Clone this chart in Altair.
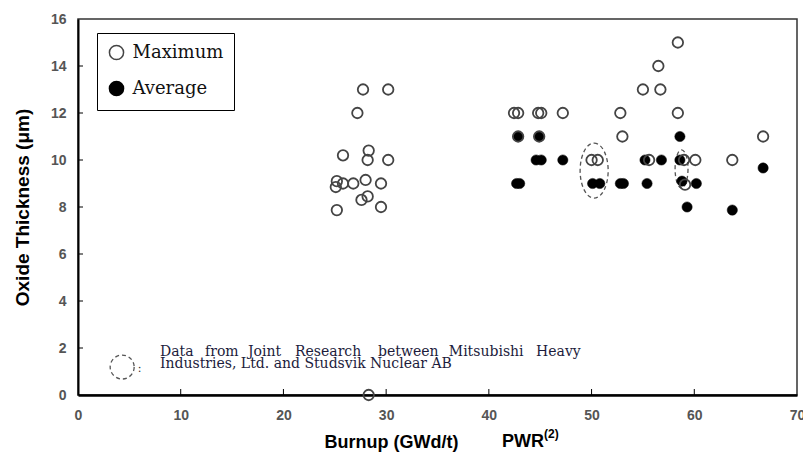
import altair as alt
import pandas as pd

# Maximum oxide thickness (open circles)
max_burnup = [25.2, 25.1, 25.8, 26.8, 28.0, 29.5, 27.6, 28.2, 25.2, 29.5,
              25.8, 28.3, 28.2, 30.2, 27.75, 30.2, 27.2, 28.3,
              42.45, 42.85, 44.8, 45.1, 47.2, 42.85, 44.9,
              52.8, 53.0, 58.4, 55.0, 56.7, 56.5, 58.4,
              50.0, 50.6, 55.6, 59.0, 60.1, 59.1, 63.7, 66.7]
max_thick = [9.1, 8.85, 9.0, 9.0, 9.15, 9.0, 8.3, 8.45, 7.87, 8.0,
             10.2, 10.4, 10.0, 10.0, 13.0, 13.0, 12.0, 0.0,
             12.0, 12.0, 12.0, 12.0, 12.0, 11.0, 11.0,
             12.0, 11.0, 12.0, 13.0, 13.0, 14.0, 15.0,
             10.0, 10.0, 10.0, 10.0, 10.0, 8.95, 10.0, 11.0]

# Average oxide thickness (filled circles)
avg_burnup = [42.7, 43.0, 42.85, 44.9, 44.6, 45.1, 47.2,
              50.1, 50.8, 52.8, 53.1, 55.4, 58.8, 60.2,
              55.2, 56.8, 58.6, 58.6, 59.3, 63.7, 66.7]
avg_thick = [9.0, 9.0, 11.0, 11.0, 10.0, 10.0, 10.0,
             9.0, 9.0, 9.0, 9.0, 9.0, 9.1, 9.0,
             10.0, 10.0, 10.0, 11.0, 8.0, 7.87, 9.66]

x_ticks = [0, 10, 20, 30, 40, 50, 60, 70]
y_ticks = [0, 2, 4, 6, 8, 10, 12, 14, 16]
series = ["Maximum", "Average"]

# Joint-research groups marked with dashed outlines
group_a = {"x": [50.25], "y": [9.55]}
group_b = {"x": [58.76], "y": [9.62]}
note_mark = {"x": [4.3], "y": [1.19]}
note_line1 = ["Data", "from", "Joint", "Research", "between", "Mitsubishi", "Heavy"]
note_line1_x = [7.98, 12.37, 16.55, 21.13, 29.21, 36.1, 44.6]
note_line2 = "Industries, Ltd. and Studsvik Nuclear AB"

W, H = 719, 376
SANS = "Liberation Sans"
SERIF = "DejaVu Serif"

df = pd.concat([
    pd.DataFrame({"burnup": avg_burnup, "thick": avg_thick, "series": "Average"}),
    pd.DataFrame({"burnup": max_burnup, "thick": max_thick, "series": "Maximum"}),
], ignore_index=True)

xscale = alt.Scale(domain=[0, 70], nice=False, zero=False)
yscale = alt.Scale(domain=[0, 16], nice=False)
fill_scale = alt.Scale(domain=series, range=["rgba(255,255,255,0)", "#000000"])
stroke_scale = alt.Scale(domain=series, range=["#444444", "#000000"])

legend = alt.Legend(
    title=None, orient="none", legendX=19, legendY=14,
    strokeColor="black", fillColor="white", padding=10.5,
    labelFont=SERIF, labelFontSize=18, labelColor="#111",
    symbolSize=200, symbolStrokeWidth=1.5, rowPadding=14, labelOffset=7,
)

x_axis = alt.Axis(values=x_ticks, grid=False, ticks=False, domainColor="black",
                  domainWidth=2.5, labelColor="#555", labelFont=SANS,
                  labelFontWeight="bold", labelFontSize=14, labelPadding=13,
                  labelFlush=False,
                  title="Burnup (GWd/t)", titleFont=SANS, titleFontSize=18,
                  titleFontWeight="bold", titleColor="black",
                  titleX=313, titleY=52, titleBaseline="alphabetic")
y_axis = alt.Axis(values=y_ticks, grid=False, ticks=False, domainColor="black",
                  domainWidth=2, labelColor="#555", labelFont=SANS,
                  labelFontWeight="bold", labelFontSize=14, labelPadding=12,
                  labelFlush=False,
                  title="Oxide Thickness (μm)", titleFont=SANS, titleFontSize=19,
                  titleFontWeight="bold", titleColor="black",
                  titleX=-50, titleBaseline="alphabetic")

base = alt.Chart(df)
enc = dict(
    x=alt.X("burnup:Q", scale=xscale, axis=x_axis),
    y=alt.Y("thick:Q", scale=yscale, axis=y_axis),
    fill=alt.Fill("series:N", scale=fill_scale, legend=legend),
    stroke=alt.Stroke("series:N", scale=stroke_scale, legend=legend),
)
avg_points = base.transform_filter(alt.datum.series == "Average").mark_point(
    shape="circle", filled=True, opacity=1, size=105, strokeWidth=0.5
).encode(**enc)
max_points = base.transform_filter(alt.datum.series == "Maximum").mark_point(
    shape="circle", filled=True, opacity=1, size=110, strokeWidth=1.8
).encode(**enc)

def dashed_outline(pos, shape, size):
    return alt.Chart(pd.DataFrame(pos)).mark_point(
        shape=shape, size=size, filled=False, stroke="#555",
        strokeWidth=1.3, strokeDash=[4, 3], opacity=1,
    ).encode(x=alt.X("x:Q", scale=xscale), y=alt.Y("y:Q", scale=yscale))

ring_a = dashed_outline(group_a, "M0,-1A0.51,1 0 1,1 0,1A0.51,1 0 1,1 0,-1Z", 3025)
ring_b = dashed_outline(group_b, "M0,-1A0.34,1 0 1,1 0,1A0.34,1 0 1,1 0,-1Z", 1444)
ring_note = dashed_outline(note_mark, "circle", 576)

# inward tick marks
x_tick_marks = alt.Chart(pd.DataFrame({"v": x_ticks[1:-1]})).mark_rule(
    color="black", strokeWidth=1).encode(
    x=alt.X("v:Q", scale=xscale), y=alt.value(H), y2=alt.value(H - 6))
y_tick_marks = alt.Chart(pd.DataFrame({"v": y_ticks[1:-1]})).mark_rule(
    color="black", strokeWidth=1).encode(
    y=alt.Y("v:Q", scale=yscale), x=alt.value(0), x2=alt.value(5))

note_df = pd.DataFrame({"word": note_line1, "x": note_line1_x, "y": 1.85})
note_text1 = alt.Chart(note_df).mark_text(
    align="left", baseline="middle", font=SERIF, fontSize=14, color="#1c1c3c"
).encode(x=alt.X("x:Q", scale=xscale), y=alt.Y("y:Q", scale=yscale), text="word:N")
note_text2 = alt.Chart(pd.DataFrame({"t": [note_line2], "x": [7.98], "y": [1.31]})).mark_text(
    align="left", baseline="middle", font=SERIF, fontSize=14, color="#1c1c3c"
).encode(x=alt.X("x:Q", scale=xscale), y=alt.Y("y:Q", scale=yscale), text="t:N")
colon = alt.Chart(pd.DataFrame({"t": [":"], "x": [6.0], "y": [1.12]})).mark_text(
    align="center", baseline="middle", font=SERIF, fontSize=11, color="#333"
).encode(x=alt.X("x:Q", scale=xscale), y=alt.Y("y:Q", scale=yscale), text="t:N")

pwr = alt.Chart(pd.DataFrame({"t": ["PWR"]})).mark_text(
    align="left", baseline="alphabetic", font=SANS, fontSize=18,
    fontWeight="bold", color="black"
).encode(x=alt.value(424), y=alt.value(H + 52), text="t:N")
pwr_ref = alt.Chart(pd.DataFrame({"t": ["(2)"]})).mark_text(
    align="left", baseline="alphabetic", font=SANS, fontSize=12,
    fontWeight="bold", color="black"
).encode(x=alt.value(466), y=alt.value(H + 43), text="t:N")

chart = alt.layer(
    x_tick_marks, y_tick_marks, ring_a, ring_b, ring_note,
    note_text1, note_text2, colon, pwr, pwr_ref, avg_points, max_points,
).properties(
    width=W, height=H,
    padding={"left": 78, "top": 19, "right": 6, "bottom": 68},
    autosize=alt.AutoSizeParams(type="none"),
    background="white",
).configure_view(stroke="#333", strokeWidth=1.5)

chart.save("out.html", embed_options={"renderer": "svg", "actions": False})
